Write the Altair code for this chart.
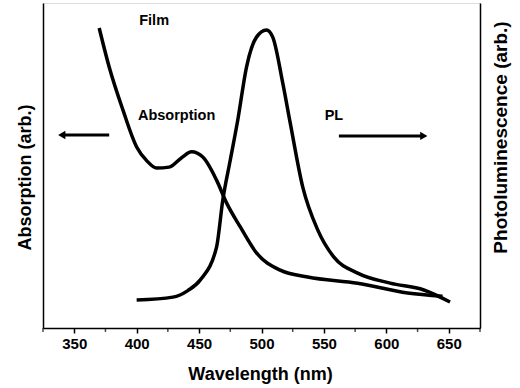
import altair as alt
import pandas as pd

# Absorption spectrum (arb. units)
abs_wl = [370, 378, 389, 400, 408, 416, 426, 436, 444, 453, 464, 472, 483, 496, 515, 537, 577, 617, 645]
abs_val = [92.3, 80.3, 67.1, 55.7, 51.5, 49.2, 49.5, 52.4, 54.2, 52.6, 45.5, 38.5, 31.1, 23.1, 17.8, 15.7, 13.8, 10.8, 9.8]

# Photoluminescence spectrum (arb. units)
pl_wl = [400, 429, 441, 451, 464, 469, 475, 481, 488, 496, 504, 509, 517, 523, 533, 545, 558, 577, 603, 630, 651]
pl_val = [8.6, 9.5, 11.5, 14.8, 24.9, 39.4, 51.7, 64.0, 80.3, 89.5, 91.7, 89.5, 75.4, 63.1, 43.4, 30.2, 21.8, 16.9, 13.8, 11.7, 8.0]

# Annotations
labels = ["Film", "Absorption", "PL"]
label_x = [414, 432, 558]
label_y = [94.5, 65.2, 65.2]

arrow_start = [378, 562]
arrow_end = [340, 630]
arrow_y = [59.4, 59.1]
arrow_shape = ["triangle-left", "triangle-right"]

major_ticks = [350, 400, 450, 500, 550, 600, 650]
minor_ticks = [325, 375, 425, 475, 525, 575, 625, 675]
FONT = "Liberation Sans"

abs_df = pd.DataFrame({"wl": abs_wl, "v": abs_val})
pl_df = pd.DataFrame({"wl": pl_wl, "v": pl_val})
lab_df = pd.DataFrame({"t": labels, "x": label_x, "y": label_y})
arr_df = pd.DataFrame({"x": arrow_start, "x2": arrow_end, "y": arrow_y, "s": arrow_shape})
minor_df = pd.DataFrame({"x": minor_ticks})

xscale = alt.Scale(domain=[325, 675], nice=False, zero=False)
yscale = alt.Scale(domain=[0, 100], nice=False, zero=False)

xaxis = alt.Axis(
    title="Wavelength (nm)", values=major_ticks, format="d",
    grid=False, tickSize=5, tickWidth=1.5, tickColor="black", domainColor="black", domainWidth=1.5,
    labelFont=FONT, labelFontWeight="bold", labelFontSize=15, labelColor="black", labelPadding=3,
    labelOverlap=False, labelFlush=False, labelBound=False,
    titleFont=FONT, titleFontWeight="bold", titleFontSize=18, titleColor="black",
    titleX=217, titleY=46, titleBaseline="middle", titleAnchor="start", titleAlign="center",
)

yaxis_left = alt.Axis(
    title="Absorption (arb.)", labels=False, ticks=False, grid=False,
    domainColor="black", domainWidth=1.5,
    titleFont=FONT, titleFontWeight="bold", titleFontSize=18, titleColor="black",
    titleAngle=270, titleX=-18, titleY=174, titleBaseline="middle", titleAlign="center",
)
yaxis_right = alt.Axis(
    title="Photoluminescence (arb.)", orient="right", labels=False, ticks=False, grid=False,
    domainColor="black", domainWidth=1.5,
    titleFont=FONT, titleFontWeight="bold", titleFontSize=19, titleColor="black",
    titleAngle=270, titleX=20, titleY=134, titleBaseline="middle", titleAlign="center",
)

abs_line = alt.Chart(abs_df).mark_line(color="black", strokeWidth=3.5, interpolate="monotone").encode(
    x=alt.X("wl:Q", scale=xscale, axis=xaxis),
    y=alt.Y("v:Q", scale=yscale, axis=yaxis_left),
)

minor = alt.Chart(minor_df).mark_tick(color="black", thickness=1.5, size=4, orient="vertical").encode(
    x=alt.X("x:Q", scale=xscale),
    y=alt.value(327),
)

text = alt.Chart(lab_df).mark_text(font=FONT, fontWeight="bold", fontSize=14.5, color="black").encode(
    x=alt.X("x:Q", scale=xscale), y=alt.Y("y:Q", scale=yscale), text="t:N"
)
rules = alt.Chart(arr_df).mark_rule(color="black", strokeWidth=3).encode(
    x=alt.X("x:Q", scale=xscale), x2="x2:Q", y=alt.Y("y:Q", scale=yscale)
)
heads = alt.Chart(arr_df).mark_point(filled=True, color="black", size=70, opacity=1).encode(
    x=alt.X("x2:Q", scale=xscale), y=alt.Y("y:Q", scale=yscale),
    shape=alt.Shape("s:N", scale=None, legend=None),
)

left = alt.layer(abs_line, minor, text, rules, heads)

pl_line = alt.Chart(pl_df).mark_line(color="black", strokeWidth=3.5, interpolate="monotone").encode(
    x=alt.X("wl:Q", scale=xscale),
    y=alt.Y("v:Q", scale=yscale, axis=yaxis_right),
)

chart = alt.layer(left, pl_line).resolve_scale(y="independent").properties(
    width=437, height=325,
    autosize=alt.AutoSizeParams(type="none"),
    padding={"left": 43, "top": 3, "right": 40, "bottom": 60},
).configure_view(stroke="black", strokeWidth=1.5, clip=False).configure(background="white")

chart.save("out.html", embed_options={"renderer": "svg", "actions": False})
